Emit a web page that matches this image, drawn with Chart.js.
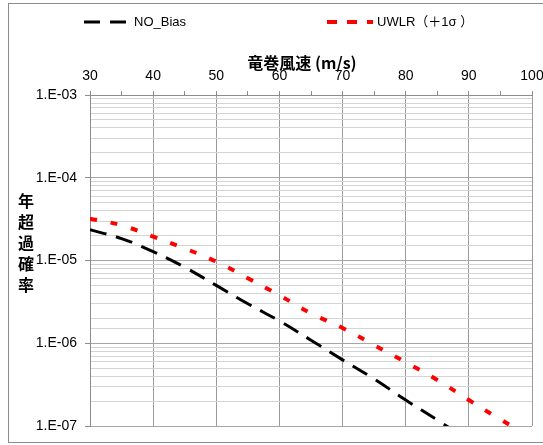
<!DOCTYPE html>
<html>
<head>
<meta charset="utf-8">
<script src="https://cdn.jsdelivr.net/npm/chart.js@4/dist/chart.umd.min.js"></script>
<style>
  html, body { margin: 0; padding: 0; background: #fff; }
  #wrap { position: relative; width: 543px; height: 445px; }
</style>
</head>
<body>
<div id="wrap"><canvas id="chart"></canvas></div>
<script>
// Data
const speeds = [30, 35, 40, 45, 50, 55, 60, 65, 70, 75, 80, 85, 90, 95, 100];
const noBias = [2.35e-5, 1.84e-5, 1.28e-5, 8.3e-6, 5.0e-6, 3.0e-6, 1.86e-6, 1.09e-6, 6.3e-7, 3.7e-7, 2.06e-7, 1.18e-7, 6.7e-8, null, null];
const uwlr = [3.2e-5, 2.66e-5, 1.94e-5, 1.4e-5, 9.7e-6, 6.1e-6, 3.8e-6, 2.3e-6, 1.53e-6, 9.5e-7, 5.9e-7, 3.6e-7, 2.06e-7, 1.2e-7, 7.2e-8];
const seriesNames = ["NO_Bias", "UWLR（＋1σ ）"];
const xTitle = "竜巻風速 (m/s)";
const yTitle = ["年", "超", "過", "確", "率"];

const FONT = "'Liberation Sans', Arial, 'Noto Sans CJK JP', sans-serif";
const CJK = "'Noto Sans CJK JP', 'Liberation Sans', sans-serif";

const toPoints = (ys) => speeds.map((x, i) => ({ x: x, y: ys[i] }));

function isDecade(v) {
  const e = Math.log10(v);
  return Math.abs(e - Math.round(e)) < 1e-6;
}

// Legend, titles and outer frame
const decorations = {
  id: "decorations",
  afterDraw(chart) {
    const ctx = chart.ctx;
    ctx.save();

    // outer frame
    ctx.strokeStyle = "#8c8c8c";
    ctx.lineWidth = 1;
    ctx.strokeRect(8.5, 3.5, 560, 439);

    // legend
    ctx.lineCap = "butt";
    ctx.strokeStyle = "#000";
    ctx.lineWidth = 3;
    ctx.setLineDash([16, 10]);
    ctx.beginPath();
    ctx.moveTo(84, 22);
    ctx.lineTo(126, 22);
    ctx.stroke();

    ctx.strokeStyle = "#ff0000";
    ctx.lineWidth = 4;
    ctx.setLineDash([10, 10]);
    ctx.beginPath();
    ctx.moveTo(327, 22);
    ctx.lineTo(373, 22);
    ctx.stroke();
    ctx.setLineDash([]);

    ctx.fillStyle = "#000";
    ctx.font = "13px " + FONT;
    ctx.textBaseline = "middle";
    ctx.textAlign = "left";
    ctx.fillText(seriesNames[0], 134, 22);
    ctx.fillText(seriesNames[1], 377, 22);

    // x axis title
    ctx.font = "bold 16px " + CJK;
    ctx.textAlign = "center";
    ctx.fillText(xTitle, 302, 63);

    // y axis title, one character per line
    yTitle.forEach((ch, i) => {
      ctx.fillText(ch, 26, 201 + i * 21);
    });

    ctx.restore();
  }
};

new Chart(document.getElementById("chart"), {
  type: "line",
  data: {
    datasets: [
      {
        label: seriesNames[0],
        data: toPoints(noBias),
        borderColor: "#000",
        borderWidth: 3,
        borderDash: [17, 10],
        pointRadius: 0,
        tension: 0.4,
        fill: false
      },
      {
        label: seriesNames[1],
        data: toPoints(uwlr),
        borderColor: "#ff0000",
        borderWidth: 4,
        borderDash: [7, 14],
        pointRadius: 0,
        tension: 0.4,
        fill: false
      }
    ]
  },
  options: {
    responsive: true,
    maintainAspectRatio: false,
    animation: false,
    layout: { padding: { top: 0, left: 0, right: 11, bottom: 19 } },
    plugins: {
      legend: { display: false },
      tooltip: { enabled: false }
    },
    scales: {
      x: {
        type: "linear",
        position: "top",
        min: 30,
        max: 100,
        afterFit: (scale) => {
          scale.height = 95;
          scale.paddingLeft = 0;
          scale.paddingRight = 0;
        },
        ticks: {
          stepSize: 5,
          autoSkip: false,
          maxRotation: 0,
          padding: 6,
          color: "#000",
          font: { size: 14, family: FONT },
          callback: (v) => (v % 10 === 0 ? v : "")
        },
        grid: {
          color: (c) => (c.tick && c.tick.value % 10 === 0 ? "#9a9a9a" : "rgba(0,0,0,0)"),
          tickColor: "#8c8c8c",
          tickLength: 4,
          lineWidth: 1
        },
        border: { color: "#8c8c8c" }
      },
      y: {
        type: "logarithmic",
        min: 1e-7,
        max: 1e-3,
        afterFit: (scale) => { scale.width = 90; },
        ticks: {
          autoSkip: false,
          padding: 8,
          color: "#000",
          font: { size: 14, family: FONT },
          callback: (v) => (isDecade(v) ? "1.E-0" + (-Math.round(Math.log10(v))) : "")
        },
        grid: {
          color: (c) => (c.tick && isDecade(c.tick.value) ? "#a6a6a6" : "#d4d4d4"),
          tickColor: (c) => (c.tick && isDecade(c.tick.value) ? "#8c8c8c" : "rgba(0,0,0,0)"),
          tickLength: 5,
          lineWidth: 1
        },
        border: { color: "#8c8c8c" }
      }
    }
  },
  plugins: [decorations]
});
</script>
</body>
</html>
